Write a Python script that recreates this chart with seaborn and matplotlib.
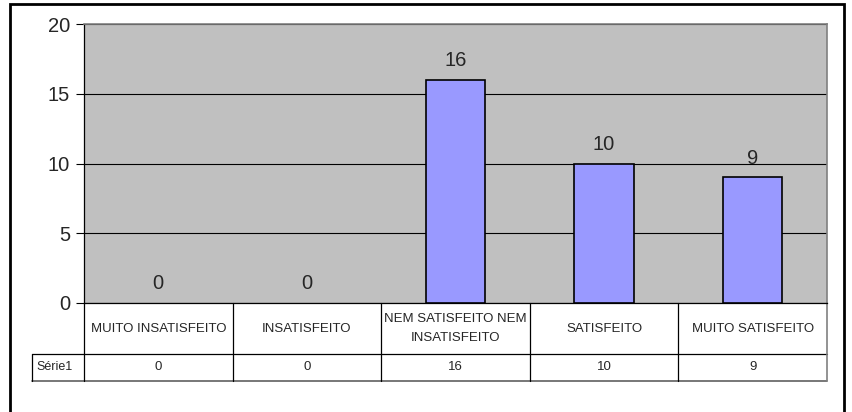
import matplotlib
matplotlib.use("Agg")
import matplotlib.pyplot as plt
import matplotlib.transforms as mtransforms
from matplotlib.patches import Rectangle
import seaborn as sns

# =========================================================
# DATA
# =========================================================

categories = [
    "MUITO INSATISFEITO",
    "INSATISFEITO",
    "NEM SATISFEITO NEM\nINSATISFEITO",
    "SATISFEITO",
    "MUITO SATISFEITO",
]
values = [0, 0, 16, 10, 9]
series_name = "Série1"
y_ticks = [0, 5, 10, 15, 20]

# =========================================================
# FIGURE
# =========================================================

sns.set_style("white")
plt.rcParams["font.family"] = ["Liberation Sans", "DejaVu Sans"]

fig = plt.figure(figsize=(8.52, 4.12), dpi=100)
ax = fig.add_axes([84 / 852, 1 - 303 / 412, (827 - 84) / 852, (303 - 24) / 412])
ax.set_facecolor("#C0C0C0")

sns.barplot(
    x=list(range(len(categories))),
    y=values,
    color="#9999FF",
    saturation=1,
    edgecolor="black",
    linewidth=1.2,
    width=0.4,
    ax=ax,
    zorder=3,
)

# no outline for empty bars
for p in ax.patches:
    if p.get_height() == 0:
        p.set_linewidth(0)

ax.set_xlim(-0.5, len(categories) - 0.5)
ax.set_ylim(0, 20)
ax.set_yticks(y_ticks)
ax.set_xticks([])
ax.set_xlabel("")
ax.set_ylabel("")
ax.tick_params(axis="y", left=True, length=6, width=0.8, color="black",
               labelsize=14.5, pad=4)

ax.yaxis.grid(True, color="black", linewidth=0.8)
ax.set_axisbelow(True)

for side in ["top", "right"]:
    ax.spines[side].set_color("#808080")
    ax.spines[side].set_linewidth(1.2)
for side in ["left", "bottom"]:
    ax.spines[side].set_color("black")
    ax.spines[side].set_linewidth(0.9)

# data labels
for i, v in enumerate(values):
    ax.annotate(str(v), (i, v), xytext=(0, 7), textcoords="offset points",
                ha="center", va="bottom", fontsize=14.5)

# =========================================================
# DATA TABLE
# =========================================================

trans = mtransforms.blended_transform_factory(ax.transData, ax.transAxes)
row1 = -51 / 279
row2 = -78 / 279
x_end = len(categories) - 0.5
x_label = -0.5 - 52 / 148.6

line_kw = dict(color="black", linewidth=0.9, transform=trans, clip_on=False)

# horizontal lines
ax.plot([x_label, x_end], [row1, row1], **line_kw)
ax.plot([x_label, x_end], [row2, row2], color="#606060", linewidth=1.2,
        transform=trans, clip_on=False)

# vertical lines
for b in range(len(categories) + 1):
    xb = b - 0.5
    last = b == len(categories)
    ax.plot([xb, xb], [0, row2], color="#808080" if last else "black",
            linewidth=1.2 if last else 0.9, transform=trans, clip_on=False)
ax.plot([x_label, x_label], [row1, row2], **line_kw)

for i, cat in enumerate(categories):
    ax.text(i, row1 / 2, cat, ha="center", va="center", fontsize=9.5,
            linespacing=1.85, transform=trans)
    ax.text(i, (row1 + row2) / 2, str(values[i]), ha="center", va="center",
            fontsize=9.5, transform=trans)

ax.text(x_label + 0.03, (row1 + row2) / 2, series_name, ha="left", va="center",
        fontsize=9, transform=trans)

# =========================================================
# OUTER FRAME
# =========================================================

frame = Rectangle((10 / 852, -0.05), (844 - 10) / 852, 1 - 4 / 412 + 0.05,
                  transform=fig.transFigure, fill=False, edgecolor="black",
                  linewidth=2, clip_on=False)
fig.patches.append(frame)

fig.savefig("out.png", dpi=100)
